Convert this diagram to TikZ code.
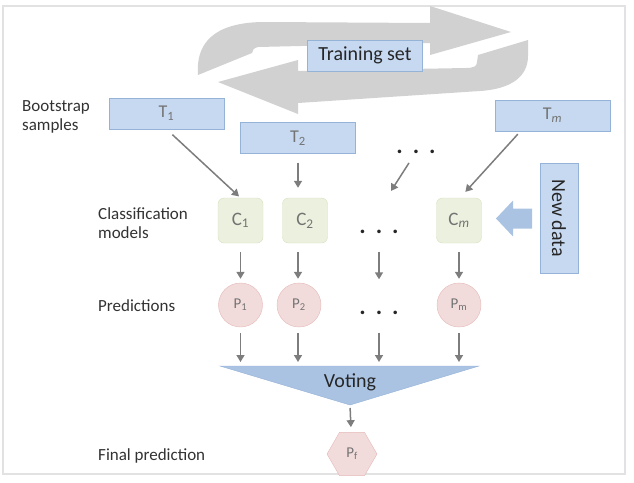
\documentclass[tikz,border=0pt]{standalone}
\usepackage{fontspec}
\setmainfont{Carlito}
\usepackage{tikz}
\usetikzlibrary{positioning,shapes,arrows.meta}

\definecolor{boxblue}{RGB}{198,217,241}
\definecolor{boxline}{RGB}{149,179,215}
\definecolor{voteblue}{RGB}{170,195,227}
\definecolor{modgreen}{RGB}{235,241,222}
\definecolor{modline}{RGB}{214,224,190}
\definecolor{predpink}{RGB}{242,220,219}
\definecolor{predline}{RGB}{228,184,183}
\definecolor{loopgray}{RGB}{209,209,209}
\definecolor{arrgray}{RGB}{125,125,125}
\definecolor{framegray}{RGB}{226,226,226}
\definecolor{labtext}{RGB}{50,50,50}
\definecolor{intext}{RGB}{115,115,115}

\tikzset{
  lbl/.style={anchor=west, align=left, inner sep=0pt, text=labtext, font=\fontsize{17}{19}\selectfont},
  tbox/.style={draw=boxline, fill=boxblue, minimum width=115pt, minimum height=31pt, inner sep=0pt, text=intext, font=\fontsize{18}{18}\selectfont},
  cbox/.style={draw=modline, fill=modgreen, rounded corners=6pt, minimum size=45pt, inner sep=0pt, text=intext, font=\fontsize{19}{19}\selectfont},
  pcirc/.style={circle, draw=predline, fill=predpink, minimum size=44pt, inner sep=0pt, text=intext, font=\fontsize{15}{15}\selectfont},
  ellip/.style={inner sep=0pt, text height=3pt, text depth=0pt, text=black!85, font=\fontsize{24}{24}\selectfont\bfseries},
  bigtxt/.style={text=black!85, font=\fontsize{20}{20}\selectfont},
  arr/.style={draw=arrgray, line width=1.5pt, -{Triangle[width=8pt,length=7pt]}}
}

\begin{document}
\begin{tikzpicture}[x=1pt,y=-1pt]
\useasboundingbox (0,0) rectangle (634,482);
\draw[framegray, line width=2pt] (3,6) rectangle (625,474);

% the loop round the training set
\fill[loopgray] (528,40) -- (478,55) -- (477,62) .. controls (477,66) and (474,68) .. (466,68)
  -- (298,71) -- (298,60) -- (218,82) -- (298,114) -- (298,103) -- (480,91)
  .. controls (512,89) and (528,76) .. (528,56) -- cycle;
\fill[loopgray] (198,75) .. controls (195,35) and (225,22) .. (265,22) -- (430,23) -- (430,6)
  -- (511,32) -- (430,55) -- (430,43) -- (258,47) .. controls (254,48) and (252,50) .. (252,53) -- cycle;
\node[tbox, bigtxt] (train) at (365,55.5) {Training set};

% bootstrap samples
\node[lbl] (lboot) at (22,117) {Bootstrap\\samples};
\node[tbox] (T1) at (166.5,113.5) {T\textsubscript{1}};
\node[tbox] (T2) at (298,138) {T\textsubscript{2}};
\node[tbox] (Tm) at (552.5,115.5) {T\textsubscript{\textit{m}}};
\node[ellip] (dT) at (416,152) {.\hspace{10pt}.\hspace{10pt}.};
\coordinate (kdots) at (391,191);

% classification models
\node[lbl] (lclass) at (98,223) {Classification\\models};
\node[cbox] (C1) at (240.5,220.5) {C\textsubscript{1}};
\node[cbox] (C2) at (305,220.5) {C\textsubscript{2}};
\node[ellip] (dC) at (379,232) {.\hspace{10pt}.\hspace{10pt}.};
\node[cbox] (Cm) at (459,220.5) {C\textsubscript{\textit{m}}};
\node[draw=boxline, fill=boxblue, rotate=-90, minimum width=110pt, minimum height=38pt, inner sep=0pt, bigtxt] (newdata) at (559,218) {New data};
\fill[voteblue] (532,208.5) -- (513,208.5) -- (513,200.5) -- (496,218.5) -- (513,236.5) -- (513,228.5) -- (532,228.5) -- cycle;

% predictions
\node[lbl] (lpred) at (98,306) {Predictions};
\node[pcirc] (P1) at (240.5,305) {P\textsubscript{1}};
\node[pcirc] (P2) at (299,305) {P\textsubscript{2}};
\node[ellip] (dP) at (379,313) {.\hspace{10pt}.\hspace{10pt}.};
\node[pcirc] (Pm) at (459,305) {P\textsubscript{m}};

% voting
\coordinate (vl) at (220,366);
\coordinate (vr) at (479,366);
\coordinate (vt) at (350,405);
\coordinate (v1) at (240.5,366);
\coordinate (v2) at (298,366);
\coordinate (v3) at (379,366);
\coordinate (vm) at (459,366);
\filldraw[fill=voteblue, draw=boxline] (vl) -- (vr) -- (vt) -- cycle;
\node[bigtxt] (vote) at (350,382) {Voting};

% final prediction
\node[lbl] (lfinal) at (98,456) {Final prediction};
\node[regular polygon, regular polygon sides=6, draw=predline, fill=predpink, minimum size=50pt, inner sep=0pt, text=intext, font=\fontsize{15}{15}\selectfont] (Pf) at (352,454) {P\textsubscript{f}};

% arrows
\draw[arr, shorten <=8pt, shorten >=2pt] (T1.south) -- (C1.north);
\draw[arr, shorten <=9pt, shorten >=10pt] (T2.south) -- (T2.south |- C2.north);
\draw[arr, shorten <=11pt] (dT) -- (kdots);
\draw[arr, shorten <=4pt, shorten >=8pt] ([xshift=-32pt]Tm.south) -- ([xshift=1pt]Cm.north);
\draw[arr, shorten <=9pt, shorten >=4pt] (C1) -- (P1);
\draw[arr, shorten <=9pt, shorten >=4pt] (C2.south -| v2) -- (v2 |- P2.north);
\draw[arr, shorten <=18pt, shorten >=32pt] (dC) -- (dP);
\draw[arr, shorten <=9pt, shorten >=4pt] (Cm) -- (Pm);
\draw[arr, shorten <=6pt, shorten >=4pt] (P1) -- (v1);
\draw[arr, shorten <=6pt, shorten >=4pt] (P2.south -| v2) -- (v2);
\draw[arr, shorten <=18pt, shorten >=4pt] (dP) -- (v3);
\draw[arr, shorten <=6pt, shorten >=4pt] (Pm) -- (vm);
\draw[arr, shorten <=3pt, shorten >=5pt] (vt) -- (Pf);
\end{tikzpicture}
\end{document}
